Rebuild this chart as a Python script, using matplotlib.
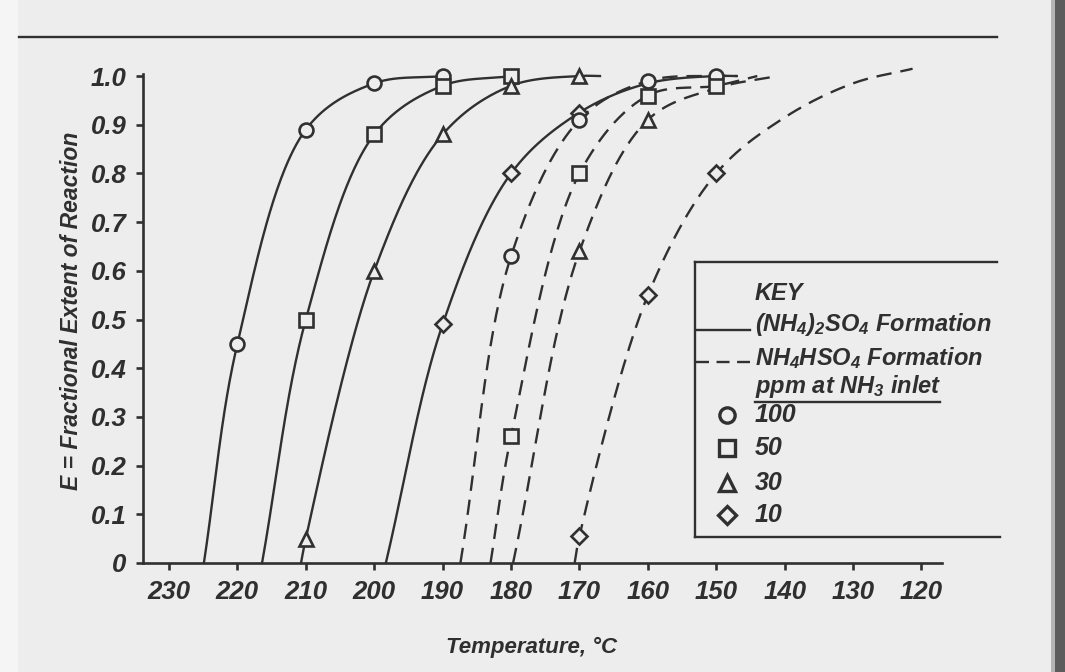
import numpy as np
import matplotlib.pyplot as plt
from matplotlib.lines import Line2D
from matplotlib.patches import Rectangle

W, H = 1065, 672
BG = '#ededed'
INK = '#303030'
TXT = '#2f2f2f'
FONT = 'Liberation Sans'

plt.rcParams['mathtext.fontset'] = 'custom'
plt.rcParams['mathtext.rm'] = 'Liberation Sans:italic:bold'
plt.rcParams['mathtext.it'] = 'Liberation Sans:italic:bold'
plt.rcParams['mathtext.bf'] = 'Liberation Sans:italic:bold'

# measured points (temperature in deg C, fractional extent E)
# (NH4)2SO4 formation - solid curves
so4_100_T = [220, 210, 200, 190]
so4_100_E = [0.45, 0.89, 0.985, 1.0]
so4_50_T = [210, 200, 190, 180]
so4_50_E = [0.50, 0.88, 0.98, 1.0]
so4_30_T = [210, 200, 190, 180, 170]
so4_30_E = [0.05, 0.60, 0.88, 0.98, 1.0]
so4_10_T = [190, 180, 170]
so4_10_E = [0.49, 0.80, 0.925]

# NH4HSO4 formation - dashed curves
hso4_100_T = [180, 170, 160, 150]
hso4_100_E = [0.63, 0.91, 0.99, 1.0]
hso4_50_T = [180, 170, 160, 150]
hso4_50_E = [0.26, 0.80, 0.96, 0.98]
hso4_30_T = [170, 160]
hso4_30_E = [0.64, 0.91]
hso4_10_T = [170, 160, 150]
hso4_10_E = [0.055, 0.55, 0.80]

# extra points along each drawn curve (onset at E=0 and where the curve runs out)
so4_100_trace = ([224.9], [0.0])
so4_50_trace = ([216.4], [0.0])
so4_30_trace = ([210.7, 167.0], [0.0, 1.0])
so4_10_trace = ([198.3, 160.0, 150.0, 147.0], [0.0, 0.985, 1.0, 1.0])
hso4_100_trace = ([187.4, 147.0], [0.0, 1.0])
hso4_50_trace = ([183.0, 144.0], [0.0, 1.0])
hso4_30_trace = ([179.7, 150.0, 141.0], [0.0, 0.975, 1.0])
hso4_10_trace = ([170.7, 140.0, 130.0, 121.3], [0.0, 0.915, 0.985, 1.015])

ppm_labels = ['100', '50', '30', '10']
ppm_markers = ['o', 's', '^', 'D']

x_ticks = [230, 220, 210, 200, 190, 180, 170, 160, 150, 140, 130, 120]
y_ticks = [0, 0.1, 0.2, 0.3, 0.4, 0.5, 0.6, 0.7, 0.8, 0.9, 1.0]
y_ticklabels = ['0', '0.1', '0.2', '0.3', '0.4', '0.5', '0.6', '0.7', '0.8', '0.9', '1.0']

# rough pixels per unit, so the spline is smooth on screen, not in data units
SX, SY = 6.84, 487.0


def catmull_rom(T, E, n=60):
    # centripetal Catmull-Rom through the points, ordered from E=0 upwards
    P = np.column_stack([-np.asarray(T) * SX, np.asarray(E) * SY])
    P = np.vstack([2 * P[0] - P[1], P, 2 * P[-1] - P[-2]])
    out = []
    for i in range(1, len(P) - 2):
        p0, p1, p2, p3 = P[i - 1], P[i], P[i + 1], P[i + 2]
        t0 = 0.0
        t1 = t0 + np.linalg.norm(p1 - p0) ** 0.5
        t2 = t1 + np.linalg.norm(p2 - p1) ** 0.5
        t3 = t2 + np.linalg.norm(p3 - p2) ** 0.5
        t = np.linspace(t1, t2, n)[:, None]
        a1 = (t1 - t) / (t1 - t0) * p0 + (t - t0) / (t1 - t0) * p1
        a2 = (t2 - t) / (t2 - t1) * p1 + (t - t1) / (t2 - t1) * p2
        a3 = (t3 - t) / (t3 - t2) * p2 + (t - t2) / (t3 - t2) * p3
        b1 = (t2 - t) / (t2 - t0) * a1 + (t - t0) / (t2 - t0) * a2
        b2 = (t3 - t) / (t3 - t1) * a2 + (t - t1) / (t3 - t1) * a3
        c = (t2 - t) / (t2 - t1) * b1 + (t - t1) / (t2 - t1) * b2
        out.append(c)
    c = np.vstack(out)
    return -c[:, 0] / SX, c[:, 1] / SY


def draw_curve(ax, T, E, trace, ls, marker):
    tt = np.array(list(T) + list(trace[0]))
    ee = np.array(list(E) + list(trace[1]))
    order = np.argsort(-tt)
    xs, ys = catmull_rom(tt[order], ee[order])
    ax.plot(xs, ys, color=INK, lw=1.7, linestyle=ls, clip_on=False, zorder=2)
    ax.plot(T, E, linestyle='none', marker=marker, ms=10 if marker != 'D' else 8,
            mfc=BG, mec=INK, mew=1.9, clip_on=False, zorder=3)


fig = plt.figure(figsize=(W / 100, H / 100), dpi=100, facecolor=BG)


def fx(x):
    return x / W


def fy(y):
    return 1 - y / H


ax = fig.add_axes([fx(143), fy(563), (942 - 143) / W, (563 - 73.6) / H])
ax.set_facecolor('none')
ax.set_xlim(233.8, 117.0)
ax.set_ylim(0, 1.005)

dash = (0, (6.5, 3.8))
solid_sets = [(so4_100_T, so4_100_E, so4_100_trace), (so4_50_T, so4_50_E, so4_50_trace),
              (so4_30_T, so4_30_E, so4_30_trace), (so4_10_T, so4_10_E, so4_10_trace)]
dashed_sets = [(hso4_100_T, hso4_100_E, hso4_100_trace), (hso4_50_T, hso4_50_E, hso4_50_trace),
               (hso4_30_T, hso4_30_E, hso4_30_trace), (hso4_10_T, hso4_10_E, hso4_10_trace)]
for (T, E, tr), mk in zip(solid_sets, ppm_markers):
    draw_curve(ax, T, E, tr, '-', mk)
for (T, E, tr), mk in zip(dashed_sets, ppm_markers):
    draw_curve(ax, T, E, tr, dash, mk)

for s in ['top', 'right']:
    ax.spines[s].set_visible(False)
for s in ['left', 'bottom']:
    ax.spines[s].set_color(INK)
    ax.spines[s].set_linewidth(1.9)

ax.set_xticks(x_ticks)
ax.set_xticklabels([str(t) for t in x_ticks])
ax.set_yticks(y_ticks)
ax.set_yticklabels(y_ticklabels)
ax.tick_params(axis='both', direction='out', length=5, width=1.9, color=INK,
               labelcolor=TXT, labelsize=18.5)
ax.tick_params(axis='x', pad=7)
ax.tick_params(axis='y', pad=7)
for lab in ax.get_xticklabels() + ax.get_yticklabels():
    lab.set_family(FONT)
    lab.set_weight('bold')
    lab.set_style('italic')

tkw = dict(family=FONT, weight='bold', style='italic', color=TXT)
fig.text(fx(532), fy(647), 'Temperature, °C', ha='center', va='center', fontsize=16, **tkw)
fig.text(fx(72), fy(311), 'E = Fractional Extent of Reaction', ha='center', va='center',
         rotation=90, fontsize=16.5, **tkw)

# page rule across the top
fig.add_artist(Line2D([fx(19), fx(997)], [fy(37), fy(37)], color=INK, lw=1.7))

# key box: open on the right
for xs, ys in [([695, 997], [262, 262]), ([695, 695], [262, 537]), ([695, 1000], [537, 537])]:
    fig.add_artist(Line2D([fx(v) for v in xs], [fy(v) for v in ys], color=INK, lw=1.7))

fig.text(fx(755), fy(294), 'KEY', ha='left', va='center', fontsize=17, **tkw)
fig.add_artist(Line2D([fx(696), fx(750)], [fy(330), fy(330)], color=INK, lw=1.7))
fig.text(fx(755), fy(325), r'$(NH_4)_2SO_4$ Formation', ha='left', va='center', fontsize=17, **tkw)
fig.add_artist(Line2D([fx(696), fx(750)], [fy(362), fy(362)], color=INK, lw=1.7,
                      linestyle=(0, (5.5, 3.2))))
fig.text(fx(755), fy(358), r'$NH_4HSO_4$ Formation', ha='left', va='center', fontsize=17, **tkw)
fig.text(fx(755), fy(387), r'ppm at $NH_3$ inlet', ha='left', va='center', fontsize=17, **tkw)
fig.add_artist(Line2D([fx(755), fx(940)], [fy(402), fy(402)], color=INK, lw=1.7))

for i, (lab, mk) in enumerate(zip(ppm_labels, ppm_markers)):
    yy = [415, 448, 483, 515][i]
    fig.add_artist(Line2D([fx(727)], [fy(yy)], marker=mk, ms=11 if mk != 'D' else 9,
                          mfc='none', mec=INK, mew=2.4, linestyle='none'))
    fig.text(fx(755), fy(yy), lab, ha='left', va='center', fontsize=18, **tkw)

# scanner edge on the right
fig.add_artist(Rectangle((fx(1051), 0), fx(4), 1, color='#b4b4b4', lw=0))
fig.add_artist(Rectangle((fx(1055), 0), fx(10), 1, color='#5c5c5c', lw=0))
fig.add_artist(Rectangle((0, 0), fx(18), 1, color='#f5f5f5', lw=0, zorder=-1))

fig.savefig('out.png', dpi=100, facecolor=BG)
